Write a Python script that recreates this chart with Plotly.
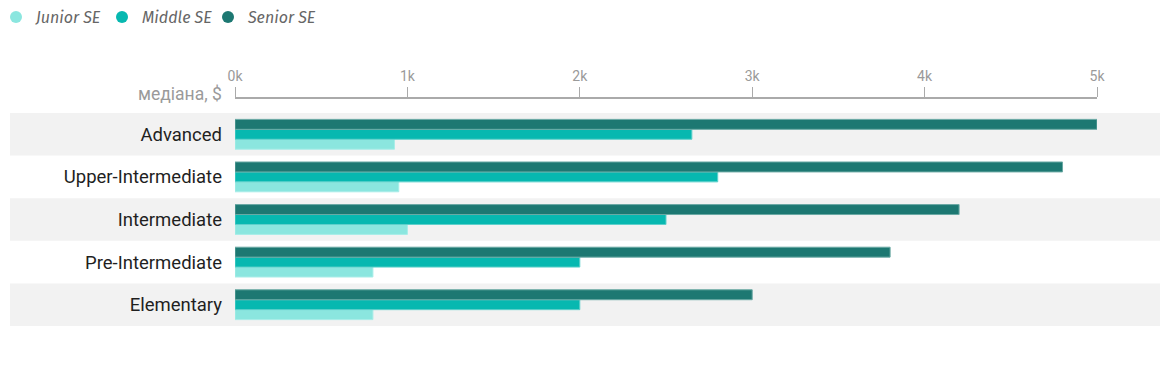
import plotly.graph_objects as go

levels = ["Advanced", "Upper-Intermediate", "Intermediate", "Pre-Intermediate", "Elementary"]
junior = [925, 950, 1000, 800, 800]
middle = [2650, 2800, 2500, 2000, 2000]
senior = [5000, 4800, 4200, 3800, 3000]
tick_vals = [0, 1000, 2000, 3000, 4000, 5000]
tick_text = ["0k", "1k", "2k", "3k", "4k", "5k"]
series_names = ["Junior SE", "Middle SE", "Senior SE"]
colors = ["#8be6df", "#07b8b0", "#1d7872"]
edge_colors = ["#a8ede8", "#5fd0cb", "#6aa9a4"]

fig = go.Figure()
for name, vals, c, ec in zip(series_names, [junior, middle, senior], colors, edge_colors):
    fig.add_trace(go.Bar(
        y=levels, x=vals, orientation="h", name=name,
        marker=dict(color=c, line=dict(color=ec, width=1)),
        showlegend=False, hoverinfo="x+name",
    ))
for name, c in zip(series_names, colors):
    fig.add_trace(go.Scatter(
        x=[None], y=[None], mode="markers", name=name,
        marker=dict(color=c, size=13, symbol="circle"),
    ))
# invisible spacer entry so the last legend label is not clipped
fig.add_trace(go.Scatter(x=[None], y=[None], mode="markers", name=" ",
                         marker=dict(color="rgba(0,0,0,0)", size=1), hoverinfo="skip"))

L, R, T, B = 227, 1089, 90, 318
PW, PH = R - L, B - T

for i, lv in enumerate(levels):
    if i % 2 == 0:
        fig.add_shape(type="rect", xref="paper", yref="y",
                      x0=(2 - L) / PW, x1=(1152 - L) / PW,
                      y0=4 - i - 0.5, y1=4 - i + 0.5,
                      fillcolor="#f2f2f2", line=dict(width=0), layer="below")

fig.add_annotation(text="медіана, $", xref="paper", yref="paper", x=0, y=1,
                   xanchor="right", yanchor="middle", xshift=-11, yshift=4,
                   showarrow=False, font=dict(size=17.5, color="#9a9a9a", family="Roboto"))

fig.update_layout(
    width=1176, height=375,
    margin=dict(l=L, r=1176 - R, t=T, b=375 - B, autoexpand=False),
    paper_bgcolor="white", plot_bgcolor="rgba(0,0,0,0)",
    barmode="group", bargap=0.3, bargroupgap=0,
    font=dict(family="Roboto"),
    legend=dict(orientation="h", xref="paper", yref="paper",
                x=(-12 - L) / PW, y=1 + (T + 8) / PH, xanchor="left", yanchor="top",
                font=dict(size=16, color="#666666", style="italic", family="Fira Sans, Lato, Open Sans"),
                itemsizing="constant", tracegroupgap=0, bgcolor="rgba(0,0,0,0)",
                entrywidth=61, entrywidthmode="pixels"),
    xaxis=dict(side="top", range=[0, 5000], tickvals=tick_vals, ticktext=tick_text,
               showgrid=False, zeroline=False, showline=True, linecolor="#aaaaaa", linewidth=2,
               ticks="outside", ticklen=10, tickcolor="#aaaaaa", tickwidth=1,
               tickfont=dict(size=14, color="#9a9a9a", family="Roboto"),
               anchor="free", position=1, fixedrange=True),
    yaxis=dict(domain=[0, (B - (T + 15)) / PH],
               categoryorder="array", categoryarray=levels[::-1],
               range=[-0.5, 4.5],
               showgrid=False, zeroline=False, showline=False,
               ticks="", ticklabelstandoff=12,
               tickfont=dict(size=18.5, color="#1f1f1f", family="Roboto"), fixedrange=True),
)

fig.write_html("out.html")
